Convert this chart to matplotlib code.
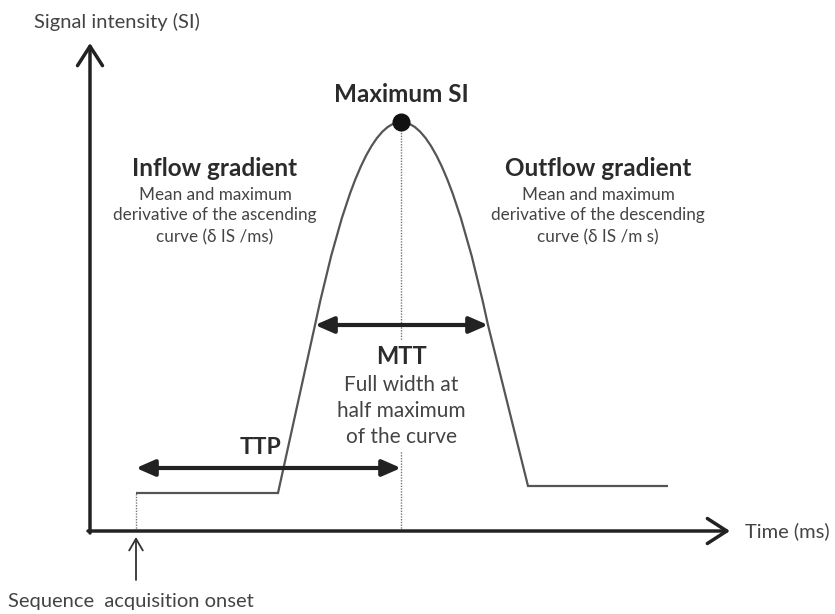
import matplotlib
matplotlib.use("Agg")
import matplotlib.pyplot as plt
from matplotlib.path import Path
from matplotlib.patches import PathPatch

plt.rcParams['font.family'] = ['Lato', 'DejaVu Sans']

# ---- data (schematic time / signal-intensity units) ----
onset_t = 46
baseline_si = 38
rise_start_t = 188
half_left_t = 225
peak_t = 311
peak_si = 409
bezier_ctrl_si = 612
half_right_t = 398
half_si = 206
fall_end_t = 438
tail_si = 45
tail_end_t = 578

curve_t = [onset_t, rise_start_t, half_left_t, peak_t, half_right_t, fall_end_t, tail_end_t]
curve_si = [baseline_si, baseline_si, half_si, bezier_ctrl_si, half_si, tail_si, tail_si]
curve_codes = [Path.MOVETO, Path.LINETO, Path.LINETO, Path.CURVE3, Path.CURVE3, Path.LINETO, Path.LINETO]

ttp_level = 63
x_axis_end = 640
y_axis_end = 488

fig = plt.figure(figsize=(8.35, 6.14), dpi=100)
ax = fig.add_axes([0, 0, 1, 1])
ax.set_xlim(-90, 745)
ax.set_ylim(-83, 531)
ax.axis('off')

txt_dark = '#2b2b2b'
txt_reg = '#444444'
line_col = '#555555'

# axes arrows
ax.annotate('', xy=(x_axis_end, 0), xytext=(-2, 0),
            arrowprops=dict(arrowstyle='->,head_length=0.7,head_width=0.45', lw=2.5,
                            color='#222222', mutation_scale=20, shrinkA=0, shrinkB=0))
ax.annotate('', xy=(0, y_axis_end), xytext=(0, -2),
            arrowprops=dict(arrowstyle='->,head_length=0.7,head_width=0.45', lw=2.5,
                            color='#222222', mutation_scale=20, shrinkA=0, shrinkB=0))

# curve
path = Path(list(zip(curve_t, curve_si)), curve_codes)
ax.add_patch(PathPatch(path, fill=False, edgecolor=line_col, lw=1.6, joinstyle='miter', zorder=3))

# dotted guides
ax.plot([peak_t, peak_t], [0, peak_si], ls=(0, (1, 1)), color='#777777', lw=1, zorder=1)
ax.plot([onset_t, onset_t], [0, baseline_si], ls=(0, (1, 1)), color='#777777', lw=1, zorder=1)

# peak dot
ax.plot([peak_t], [peak_si], 'o', color='#111111', ms=12, zorder=4)

# double arrows
for (x0, x1, yy) in [(onset_t, peak_t, ttp_level), (half_left_t, half_right_t, half_si)]:
    ax.annotate('', xy=(x1, yy), xytext=(x0, yy),
                arrowprops=dict(arrowstyle='<|-|>,head_length=0.8,head_width=0.35', lw=3,
                                color='#222222', mutation_scale=14, shrinkA=0, shrinkB=0),
                zorder=5)

# onset arrow
ax.annotate('', xy=(onset_t, -6), xytext=(onset_t, -49),
            arrowprops=dict(arrowstyle='->,head_length=0.6,head_width=0.35', lw=1.3,
                            color='#333333', mutation_scale=14, shrinkA=0, shrinkB=0))

# texts
ax.text(27, 509, 'Signal intensity (SI)', ha='center', va='center', fontsize=14.5, color=txt_reg)
ax.text(peak_t, 436, 'Maximum SI', ha='center', va='center', fontsize=17.5, fontweight='bold', color=txt_dark)

ax.text(125, 363, 'Inflow gradient', ha='center', va='center', fontsize=17.5, fontweight='bold', color=txt_dark)
for yy, s in zip([336, 316, 294], ['Mean and maximum', 'derivative of the ascending', 'curve (δ IS /ms)']):
    ax.text(125, yy, s, ha='center', va='center', fontsize=12.3, color=txt_reg)

ax.text(508, 363, 'Outflow gradient', ha='center', va='center', fontsize=17.5, fontweight='bold', color=txt_dark)
for yy, s in zip([336, 316, 294], ['Mean and maximum', 'derivative of the descending', 'curve (δ IS /m s)']):
    ax.text(508, yy, s, ha='center', va='center', fontsize=12.3, color=txt_reg)

white_box = dict(boxstyle='square,pad=0.25', fc='white', ec='none')
ax.text(peak_t, 174, 'MTT', ha='center', va='center', fontsize=17, fontweight='bold', color=txt_dark,
        bbox=white_box, zorder=2)
for yy, s in zip([146, 120, 94], ['Full width at', 'half maximum', 'of the curve']):
    ax.text(peak_t, yy, s, ha='center', va='center', fontsize=15, color=txt_reg,
            bbox=white_box, zorder=2)

ax.text(171, 84, 'TTP', ha='center', va='center', fontsize=16.5, fontweight='bold', color=txt_dark)
ax.text(655, 0, 'Time (ms)', ha='left', va='center', fontsize=14.5, color=txt_reg)
ax.text(-82, -70, 'Sequence  acquisition onset', ha='left', va='center', fontsize=14.5, color=txt_reg)

fig.savefig('out.png', dpi=100)
